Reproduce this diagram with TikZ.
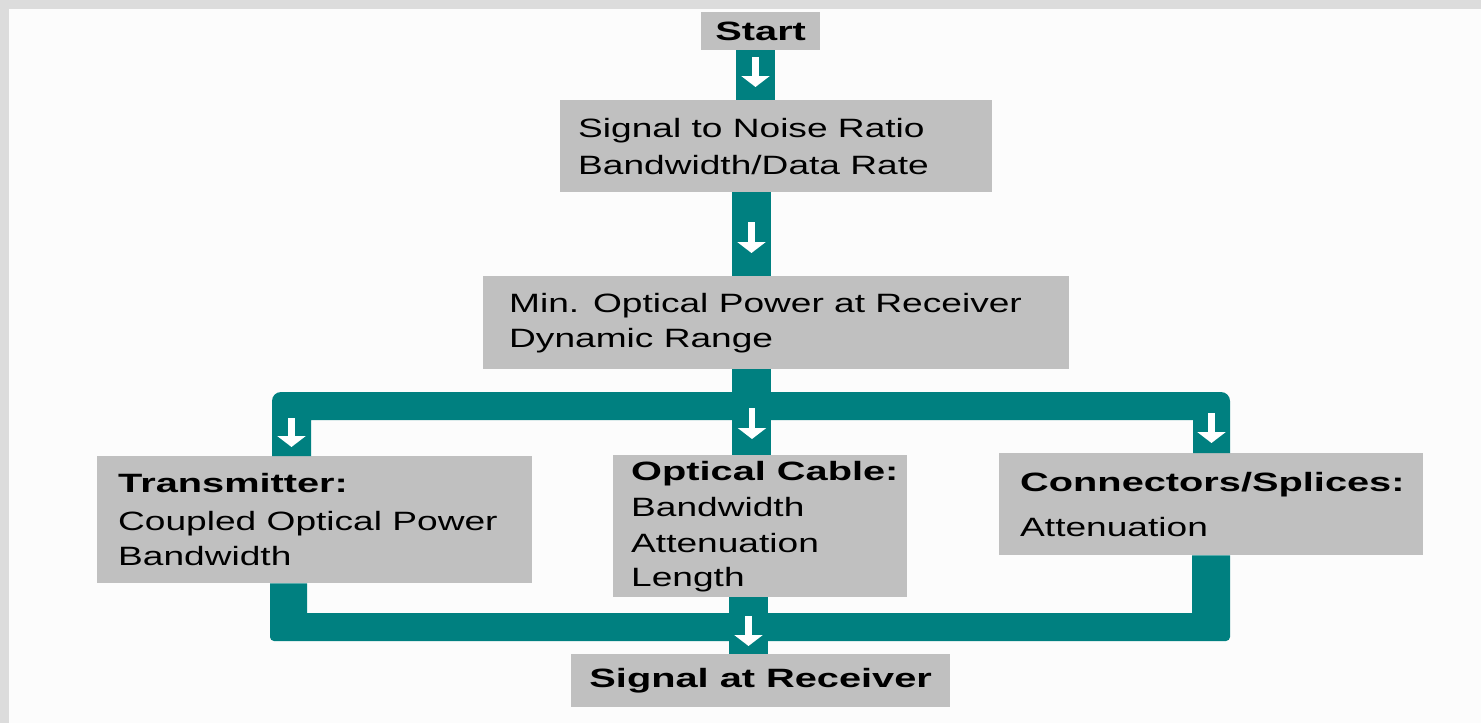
\documentclass[tikz,border=0pt]{standalone}
\usepackage{fontspec}
\setmainfont{Liberation Sans}[FakeStretch=1.4]
\newfontfamily\headfont{Liberation Sans}[FakeStretch=1.5]
\usetikzlibrary{arrows.meta,positioning}
\definecolor{pipeteal}{HTML}{008080}
\definecolor{boxgray}{HTML}{C0C0C0}
\definecolor{pagebg}{HTML}{FCFCFC}
\definecolor{rimgray}{HTML}{DCDCDC}
\tikzset{
  graybox/.style={fill=boxgray, inner sep=0pt, anchor=north west},
  boxtext/.style={align=left, inner sep=0pt},
  flowpipe/.style={draw=pipeteal, line width=39pt},
  flowarrow/.style={draw=white, line width=6.5pt, -{Triangle[length=11pt,width=28pt]}}
}
\begin{document}
\begin{tikzpicture}[x=1pt, y=-1pt, font=\fontsize{26.5}{36}\selectfont]
    \fill[rimgray] (0,0) rectangle (1481,723);
    \fill[pagebg] (9,9) rectangle (1481,723);
    \useasboundingbox (0,0) rectangle (1481,723);
    \coordinate (s1) at (755.5,0); \coordinate (s2) at (751.5,0); \coordinate (s3) at (748.5,0);
    \coordinate (L1) at (272,0); \coordinate (L2) at (311,0);
    \coordinate (R1) at (1193,0); \coordinate (R2) at (1230,0);
    \coordinate (T1) at (0,392); \coordinate (T2) at (0,420);
    \coordinate (L3) at (270,0); \coordinate (L4) at (307,0);
    \coordinate (R3) at (1192,0); \coordinate (R4) at (1230,0);
    \coordinate (B1) at (0,613); \coordinate (B2) at (0,641);
    \coordinate (a1) at (291.5,418); \coordinate (a2) at (752,408); \coordinate (a3) at (1211.5,413);
    % boxes
    \node[graybox, minimum width=119pt, minimum height=38pt] (start) at (701,12) {\headfont\bfseries Start};
    \node[graybox, minimum width=432pt, minimum height=92pt] (snr) at (560,100) {};
    \node[graybox, minimum width=586pt, minimum height=93pt] (minp) at (483,276) {};
    \node[graybox, minimum width=435pt, minimum height=127pt] (tx) at (97,456) {};
    \node[graybox, minimum width=294pt, minimum height=142pt] (cable) at (613,455) {};
    \node[graybox, minimum width=424pt, minimum height=102pt] (conn) at (999,453) {};
    \node[graybox, minimum width=379pt, minimum height=53pt] (recv) at (571,654) {\headfont\bfseries Signal at Receiver};
    \node[boxtext, right=18pt of snr.west] (snr-text) {Signal to Noise Ratio\\[1pt]Bandwidth/Data Rate};
    \node[boxtext, right=26pt of minp.west] (minp-text) {Min. Optical Power at Receiver\\[-1pt]Dynamic Range};
    \node[boxtext, right=21pt of tx.west] (tx-text) {{\headfont\bfseries Transmitter:}\\[2pt]Coupled Optical Power\\[-1pt]Bandwidth};
    \node[boxtext, right=18pt of cable.west] (cable-text) {{\headfont\bfseries Optical Cable:}\\Bandwidth\\Attenuation\\[-2pt]Length};
    \node[boxtext, right=21pt of conn.west] (conn-text) {{\headfont\bfseries Connectors/Splices:}\\[9pt]Attenuation};
    % teal pipes
    \draw[flowpipe] (start.south -| s1) -- (snr.north -| s1);
    \draw[flowpipe] (snr.south -| s2) -- (minp.north -| s2);
    \draw[flowpipe] (minp.south -| s2) -- (cable.north -| s2);
    \draw[flowpipe] (cable.south -| s3) -- (recv.north -| s3);
    \fill[pipeteal] (tx.north -| L1) [rounded corners=9pt] -- (L1 |- T1) -- (R2 |- T1) [sharp corners]
      -- (conn.north -| R2) -- (conn.north -| R1) -- (R1 |- T2) -- (L2 |- T2) -- (tx.north -| L2) -- cycle;
    \fill[pipeteal] (tx.south -| L3) [rounded corners=4pt] -- (L3 |- B2) -- (R4 |- B2) [sharp corners]
      -- (conn.south -| R4) -- (conn.south -| R3) -- (R3 |- B1) -- (L4 |- B1) -- (tx.south -| L4) -- cycle;
    % white arrows
    \draw[flowarrow, shorten <=7pt, shorten >=13pt] (start.south -| s1) -- (snr.north -| s1);
    \draw[flowarrow, shorten <=30pt, shorten >=23pt] (snr.south -| s2) -- (minp.north -| s2);
    \draw[flowarrow, shorten >=9pt] (a1) -- (tx.north -| a1);
    \draw[flowarrow, shorten >=16pt] (a2) -- (cable.north -| a2);
    \draw[flowarrow, shorten >=10pt] (a3) -- (conn.north -| a3);
    \draw[flowarrow, shorten <=19pt, shorten >=8pt] (cable.south -| s3) -- (recv.north -| s3);
\end{tikzpicture}
\end{document}
